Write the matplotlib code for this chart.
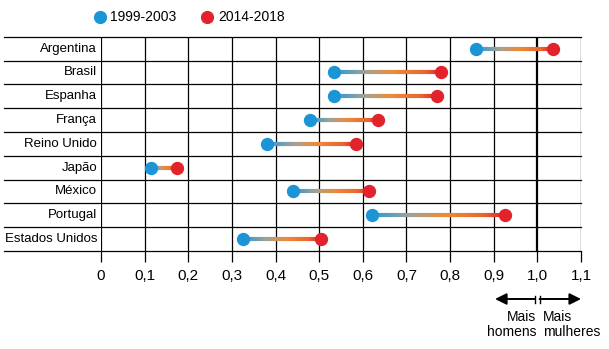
import numpy as np
import matplotlib
matplotlib.use("Agg")
import matplotlib.pyplot as plt
from matplotlib.collections import LineCollection
from matplotlib.colors import LinearSegmentedColormap
from matplotlib.lines import Line2D
from matplotlib.transforms import blended_transform_factory

plt.rcParams['font.family'] = ['Liberation Sans', 'DejaVu Sans']

# dados
paises = ["Argentina", "Brasil", "Espanha", "França", "Reino Unido",
          "Japão", "México", "Portugal", "Estados Unidos"]
v1999 = [0.86, 0.535, 0.535, 0.48, 0.38, 0.115, 0.44, 0.62, 0.325]
v2014 = [1.035, 0.78, 0.77, 0.635, 0.585, 0.175, 0.615, 0.925, 0.505]
ticks = [0, 0.1, 0.2, 0.3, 0.4, 0.5, 0.6, 0.7, 0.8, 0.9, 1.0, 1.1]
tick_labels = ["0", "0,1", "0,2", "0,3", "0,4", "0,5", "0,6", "0,7", "0,8", "0,9", "1,0", "1,1"]
serie1 = "1999-2003"
serie2 = "2014-2018"

azul = "#1b95d5"
vermelho = "#e3232b"
cmap = LinearSegmentedColormap.from_list(
    "grad", [(0, "#2a9ad6"), (0.3, "#a3a294"), (0.55, "#ec8b36"),
             (0.85, "#e8672f"), (1, vermelho)])

W, H = 609, 349
fig = plt.figure(figsize=(W / 100, H / 100), dpi=100)
ax = fig.add_axes([101 / W, 1 - 251 / H, 480 / W, (251 - 36.7) / H])
ax.set_xlim(0, 1.1)
ax.set_ylim(len(paises), 0)
for s in ax.spines.values():
    s.set_visible(False)

tr_ay = blended_transform_factory(ax.transAxes, ax.transData)
tr_df = blended_transform_factory(ax.transData, fig.transFigure)

# linhas da tabela
for i in range(len(paises) + 1):
    ax.plot([-0.202, 1], [i, i], transform=tr_ay, color="black", lw=0.9,
            clip_on=False, zorder=1)
for t in ticks:
    lw = 1.6 if t in (0, 1.0) else 0.9
    ax.axvline(t, color="black", lw=lw, zorder=1)

ax.set_xticks(ticks, tick_labels)
ax.set_yticks([])
ax.tick_params(axis="x", length=8, width=0.9, pad=5, labelsize=11, colors="black")

for i, nome in enumerate(paises):
    ax.text(-0.008, i + 0.5, nome, transform=tr_ay, ha="right", va="center",
            fontsize=9.5)

# linhas com gradiente
for i, (a, b) in enumerate(zip(v1999, v2014)):
    xs = np.linspace(a, b, 80)
    ys = np.full_like(xs, i + 0.5)
    pts = np.column_stack([xs, ys]).reshape(-1, 1, 2)
    segs = np.concatenate([pts[:-1], pts[1:]], axis=1)
    lc = LineCollection(segs, colors=cmap(np.linspace(0, 1, len(segs))),
                        linewidths=3, capstyle="butt", zorder=3)
    ax.add_collection(lc)

ys = np.arange(len(paises)) + 0.5
ax.scatter(v1999, ys, s=92, color=azul, zorder=4, clip_on=False, linewidths=0)
ax.scatter(v2014, ys, s=92, color=vermelho, zorder=4, clip_on=False, linewidths=0)

# legenda
yl = 1 - 17 / H
fig.add_artist(Line2D([100 / W], [yl], marker="o", ms=8.5, color=azul, ls="none",
                      transform=fig.transFigure))
fig.text(110 / W, yl, serie1, va="center", fontsize=10)
fig.add_artist(Line2D([207 / W], [yl], marker="o", ms=8.5, color=vermelho, ls="none",
                      transform=fig.transFigure))
fig.text(218 / W, yl, serie2, va="center", fontsize=10)

# setas
ya = 1 - 299 / H
ax.annotate("", xy=(0.903, ya), xytext=(0.995, ya), xycoords=("data", "figure fraction"),
            arrowprops=dict(arrowstyle="-|>", color="black", lw=1.4,
                            mutation_scale=17, shrinkA=0, shrinkB=0))
ax.annotate("", xy=(1.1, ya), xytext=(1.005, ya), xycoords=("data", "figure fraction"),
            arrowprops=dict(arrowstyle="-|>", color="black", lw=1.4,
                            mutation_scale=17, shrinkA=0, shrinkB=0))
for xm in (0.995, 1.005):
    ax.plot([xm, xm], [ya - 3.5 / H, ya + 3.5 / H], transform=tr_df, color="black",
            lw=1.0, clip_on=False)

yt = 1 - 310 / H
ax.text(0.997, yt, "Mais\nhomens", transform=tr_df, ha="right", va="top",
        fontsize=10, linespacing=1.05)
ax.text(1.012, yt, "Mais\nmulheres", transform=tr_df, ha="left", va="top",
        fontsize=10, linespacing=1.05, multialignment="left")

fig.savefig("out.png", dpi=100)
